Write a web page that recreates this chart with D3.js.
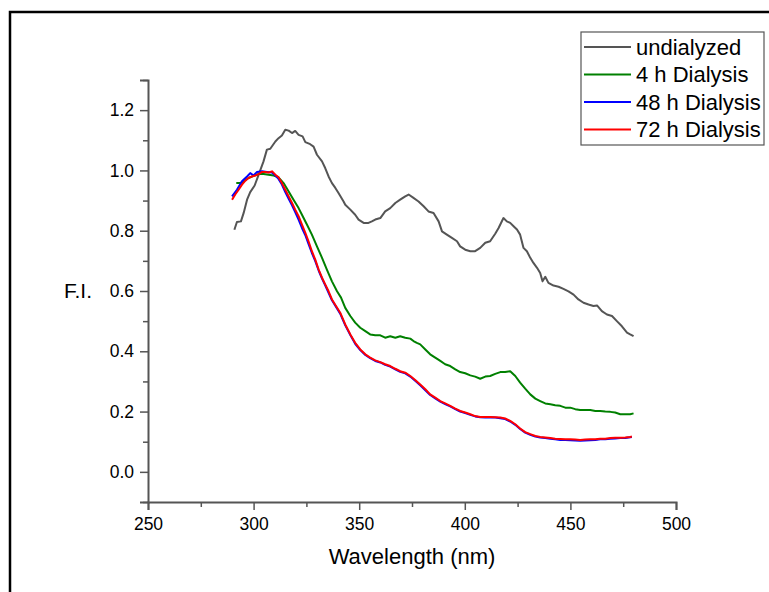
<!DOCTYPE html>
<html>
<head>
<meta charset="utf-8">
<script src="https://cdn.jsdelivr.net/npm/d3@7"></script>
<style>
  body { margin: 0; background: #fff; }
  text { font-family: Arial, "Liberation Sans", sans-serif; fill: #000; }
</style>
</head>
<body>
<div id="chart-area"></div>
<script>
// Series data (wavelength in nm, F.I.)
const seriesNames = ["undialyzed", "4 h Dialysis", "48 h Dialysis", "72 h Dialysis"];
const seriesColors = ["#555555", "#008000", "#0000ff", "#ff0000"];

const undialyzedWl = [290.9, 292.1, 294.0, 295.3, 296.9, 298.4, 300.5, 302.4, 304.7, 306.3, 307.9, 310.3, 311.8, 313.4, 315.0, 316.6, 318.2, 319.7, 321.3, 323.2, 324.5, 326.8, 328.4, 330.0, 332.4, 333.9, 335.5, 337.1, 338.7, 340.2, 342.6,
  343.4, 345.8, 348.1, 349.7, 352.1, 354.4, 356.0, 357.6, 360.0, 362.3, 364.7, 367.1, 369.4, 371.8, 373.4, 375.7, 378.1, 380.5, 382.8, 385.2, 387.6, 389.2, 391.5, 393.9, 396.3, 397.8, 400.2, 402.6, 404.9, 407.3, 409.7, 412.0, 414.4,
  416.0, 418.3, 419.9, 421.5, 423.1, 424.7, 426.2, 427.8, 429.4, 431.0, 432.5, 434.2, 435.7, 436.8, 438.1, 439.6, 442.0, 444.4, 446.7, 449.1, 451.5, 453.8, 456.2, 458.6, 460.9, 462.6, 464.9, 467.3, 469.7, 472.0, 474.4, 476.8, 478.3, 479.9];
const undialyzedVal = [0.803, 0.829, 0.831, 0.859, 0.903, 0.928, 0.950, 0.986, 1.030, 1.069, 1.072, 1.096, 1.107, 1.116, 1.135, 1.132, 1.124, 1.131, 1.118, 1.113, 1.094, 1.087, 1.079, 1.052, 1.030, 1.008, 0.980, 0.958, 0.942, 0.925, 0.897,
  0.886, 0.870, 0.853, 0.837, 0.826, 0.826, 0.831, 0.837, 0.842, 0.864, 0.875, 0.892, 0.903, 0.914, 0.920, 0.909, 0.897, 0.881, 0.864, 0.859, 0.831, 0.798, 0.787, 0.776, 0.765, 0.748, 0.737, 0.732, 0.732, 0.743, 0.760, 0.765, 0.790,
  0.809, 0.842, 0.831, 0.826, 0.815, 0.804, 0.787, 0.743, 0.732, 0.710, 0.693, 0.677, 0.660, 0.632, 0.647, 0.627, 0.618, 0.614, 0.607, 0.599, 0.588, 0.572, 0.561, 0.555, 0.550, 0.552, 0.533, 0.522, 0.517, 0.500, 0.483, 0.462, 0.456, 0.450];

const dial4Wl = [291.8, 293.7, 295.3, 297.6, 300.0, 302.4, 304.7, 307.1, 309.5, 311.8, 314.2, 316.6, 318.9, 321.3, 322.9, 325.3, 327.6, 330.0, 332.4, 334.7, 337.1, 339.5, 341.4,
  343.4, 345.8, 348.1, 350.5, 352.9, 355.2, 357.6, 360.0, 362.3, 364.7, 367.1, 369.4, 371.8, 374.2, 375.7, 377.3, 378.9, 381.3, 383.6, 386.0, 388.4, 390.7, 393.1, 395.5, 397.8, 400.2, 402.6, 404.9, 407.3, 409.7, 412.0, 414.4,
  416.8, 419.1, 421.5, 423.9, 426.2, 428.6, 431.0, 433.4, 435.7, 438.1, 440.5, 442.8, 445.2, 447.6, 449.9, 452.3, 454.6, 457.0, 459.4, 461.8, 464.1, 466.5, 468.9, 471.2, 473.6, 476.0, 478.3, 479.9];
const dial4Val = [0.958, 0.958, 0.964, 0.975, 0.982, 0.988, 0.988, 0.986, 0.983, 0.977, 0.958, 0.930, 0.903, 0.875, 0.853, 0.820, 0.787, 0.748, 0.710, 0.671, 0.632, 0.599, 0.578,
  0.544, 0.517, 0.495, 0.478, 0.467, 0.456, 0.453, 0.453, 0.445, 0.450, 0.445, 0.450, 0.445, 0.442, 0.434, 0.428, 0.423, 0.406, 0.390, 0.379, 0.368, 0.357, 0.351, 0.340, 0.331, 0.327, 0.320, 0.316, 0.309, 0.316, 0.318, 0.325,
  0.331, 0.331, 0.334, 0.318, 0.296, 0.276, 0.257, 0.243, 0.235, 0.227, 0.224, 0.221, 0.219, 0.213, 0.213, 0.208, 0.205, 0.205, 0.205, 0.202, 0.202, 0.200, 0.199, 0.197, 0.191, 0.191, 0.191, 0.194];

const dial48Wl = [289.8, 292.1, 294.5, 296.9, 298.4, 300.0, 301.6, 304.0, 306.3, 308.7, 310.3, 311.8, 313.4, 315.0, 316.6, 318.2, 319.7, 321.3, 322.9, 324.5, 326.0, 327.6, 329.2, 330.8, 332.4, 333.9, 335.5, 337.1, 341.0,
  343.4, 345.8, 348.1, 350.5, 352.9, 355.2, 357.6, 360.0, 362.3, 364.7, 367.1, 369.4, 371.8, 374.2, 376.5, 378.9, 381.3, 383.6, 386.0, 388.4, 390.7, 393.1, 395.5, 397.8, 400.2, 402.6, 404.9, 407.3, 409.7, 412.0, 414.4,
  416.8, 419.1, 421.5, 423.9, 426.2, 428.6, 431.0, 433.4, 435.7, 438.1, 440.5, 442.8, 445.2, 447.6, 449.9, 452.3, 454.6, 457.0, 459.4, 461.8, 464.1, 466.5, 468.9, 471.2, 473.6, 476.0, 478.3, 479.1];
const dial48Val = [0.914, 0.936, 0.964, 0.980, 0.991, 0.983, 0.995, 0.997, 0.995, 0.993, 0.983, 0.972, 0.953, 0.928, 0.906, 0.884, 0.862, 0.837, 0.809, 0.785, 0.756, 0.726, 0.699, 0.668, 0.641, 0.619, 0.594, 0.569, 0.525,
  0.486, 0.454, 0.425, 0.404, 0.388, 0.377, 0.368, 0.363, 0.355, 0.349, 0.340, 0.332, 0.327, 0.316, 0.302, 0.287, 0.271, 0.255, 0.244, 0.233, 0.225, 0.217, 0.208, 0.200, 0.195, 0.189, 0.184, 0.181, 0.180, 0.181, 0.180,
  0.178, 0.175, 0.167, 0.156, 0.142, 0.130, 0.123, 0.117, 0.114, 0.112, 0.110, 0.108, 0.106, 0.106, 0.105, 0.104, 0.103, 0.104, 0.105, 0.106, 0.108, 0.108, 0.110, 0.111, 0.112, 0.112, 0.115, 0.116];

const dial72Wl = [289.8, 291.3, 292.9, 294.5, 296.1, 297.6, 299.2, 300.8, 302.4, 304.0, 305.5, 307.1, 308.7, 310.3, 311.8, 313.4, 315.0, 316.6, 318.2, 319.7, 321.3, 322.9, 324.5, 326.0, 327.6, 329.2, 330.8, 332.4, 333.9, 335.5, 337.1, 341.0,
  343.4, 345.8, 348.1, 350.5, 352.9, 355.2, 357.6, 360.0, 362.3, 364.7, 367.1, 369.4, 371.8, 374.2, 376.5, 378.9, 381.3, 383.6, 386.0, 388.4, 390.7, 393.1, 395.5, 397.8, 400.2, 402.6, 404.9, 407.3, 409.7, 412.0, 414.4,
  416.8, 419.1, 421.5, 423.9, 426.2, 428.6, 431.0, 433.4, 435.7, 438.1, 440.5, 442.8, 445.2, 447.6, 449.9, 452.3, 454.6, 457.0, 459.4, 461.8, 464.1, 466.5, 468.9, 471.2, 473.6, 476.0, 478.3, 479.1];
const dial72Val = [0.903, 0.920, 0.936, 0.953, 0.966, 0.975, 0.980, 0.983, 0.988, 0.995, 0.995, 0.993, 0.997, 0.986, 0.977, 0.958, 0.936, 0.914, 0.892, 0.870, 0.848, 0.820, 0.793, 0.765, 0.732, 0.704, 0.671, 0.644, 0.622, 0.599, 0.572, 0.528,
  0.489, 0.456, 0.428, 0.406, 0.390, 0.379, 0.370, 0.364, 0.357, 0.351, 0.342, 0.334, 0.329, 0.318, 0.305, 0.290, 0.274, 0.257, 0.246, 0.235, 0.227, 0.219, 0.210, 0.202, 0.197, 0.191, 0.185, 0.182, 0.182, 0.182, 0.181,
  0.180, 0.177, 0.169, 0.158, 0.144, 0.132, 0.125, 0.119, 0.116, 0.114, 0.112, 0.110, 0.109, 0.108, 0.108, 0.107, 0.106, 0.107, 0.108, 0.108, 0.110, 0.110, 0.112, 0.113, 0.113, 0.114, 0.116, 0.117];

const xMajorTicks = [250, 300, 350, 400, 450, 500];
const xMinorTicks = [275, 325, 375, 425, 475];
const yMajorTicks = [0.0, 0.2, 0.4, 0.6, 0.8, 1.0, 1.2];
const yMinorTicks = [-0.1, 0.1, 0.3, 0.5, 0.7, 0.9, 1.1, 1.3];

const seriesWl = [undialyzedWl, dial4Wl, dial48Wl, dial72Wl];
const seriesVal = [undialyzedVal, dial4Val, dial48Val, dial72Val];

// Layout
const W = 769, H = 592;
const plot = { left: 148, right: 676, top: 80, bottom: 502 };

const svg = d3.select("#chart-area").append("svg")
    .attr("width", W)
    .attr("height", H);

svg.append("rect").attr("width", W).attr("height", H).attr("fill", "#fff");

// page frame (runs off the right and bottom edges)
svg.append("rect")
    .attr("x", 10).attr("y", 12)
    .attr("width", 820).attr("height", 650)
    .attr("fill", "none")
    .attr("stroke", "#000")
    .attr("stroke-width", 2.5);

const x = d3.scaleLinear().domain([250, 500]).range([plot.left, plot.right]);
const y = d3.scaleLinear().domain([-0.1, 1.3]).range([plot.bottom, plot.top]);

const axisColor = "#555";

// X axis
svg.append("g")
    .attr("transform", `translate(0, ${plot.bottom})`)
    .call(d3.axisBottom(x).tickValues(xMajorTicks).tickSize(8).tickPadding(8).tickFormat(d3.format("d")));
svg.append("g")
    .attr("transform", `translate(0, ${plot.bottom})`)
    .call(d3.axisBottom(x).tickValues(xMinorTicks).tickSize(5).tickFormat(""))
    .call(g => g.select(".domain").remove());

// Y axis
svg.append("g")
    .attr("transform", `translate(${plot.left}, 0)`)
    .call(d3.axisLeft(y).tickValues(yMajorTicks).tickSize(8).tickPadding(6).tickFormat(d3.format(".1f")));
svg.append("g")
    .attr("transform", `translate(${plot.left}, 0)`)
    .call(d3.axisLeft(y).tickValues(yMinorTicks).tickSize(5).tickFormat(""))
    .call(g => g.select(".domain").remove());

svg.selectAll(".domain").attr("stroke", axisColor).attr("stroke-width", 2);
svg.selectAll(".tick line").attr("stroke", axisColor).attr("stroke-width", 1.5);
svg.selectAll(".tick text")
    .attr("fill", "#000")
    .style("font-size", "17.5px")
    .style("font-family", "Arial, 'Liberation Sans', sans-serif");

// Axis titles
svg.append("text")
    .attr("x", (plot.left + plot.right) / 2)
    .attr("y", 564)
    .attr("text-anchor", "middle")
    .style("font-size", "22px")
    .text("Wavelength (nm)");

svg.append("text")
    .attr("x", 78)
    .attr("y", (plot.top + plot.bottom) / 2)
    .attr("dy", "0.35em")
    .attr("text-anchor", "middle")
    .style("font-size", "21px")
    .text("F.I.");

// Lines
const line = d3.line()
    .x(d => x(d[0]))
    .y(d => y(d[1]));

seriesNames.forEach((name, i) => {
    const pts = seriesWl[i].map((w, j) => [w, seriesVal[i][j]]);
    svg.append("path")
        .datum(pts)
        .attr("fill", "none")
        .attr("stroke", seriesColors[i])
        .attr("stroke-width", 2)
        .attr("stroke-linejoin", "round")
        .attr("d", line);
});

// Legend
const legend = svg.append("g").attr("transform", "translate(581, 32)");
legend.append("rect")
    .attr("width", 183).attr("height", 113)
    .attr("fill", "#fff")
    .attr("stroke", "#555")
    .attr("stroke-width", 1.2);

seriesNames.forEach((name, i) => {
    const yy = 15 + i * 27.5;
    legend.append("line")
        .attr("x1", 3).attr("x2", 50)
        .attr("y1", yy).attr("y2", yy)
        .attr("stroke", seriesColors[i])
        .attr("stroke-width", 2);
    legend.append("text")
        .attr("x", 55)
        .attr("y", yy)
        .attr("dy", "0.35em")
        .style("font-size", "22px")
        .text(name);
});
</script>
</body>
</html>
